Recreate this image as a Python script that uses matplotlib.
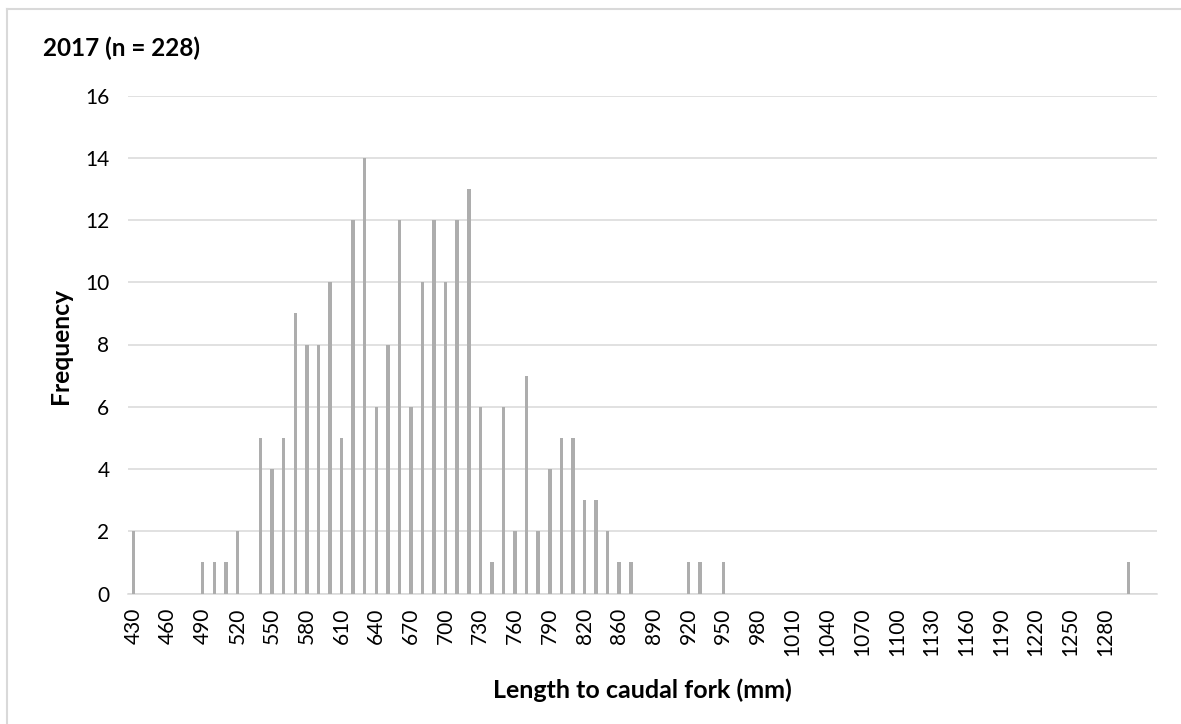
import matplotlib
matplotlib.use("Agg")
import matplotlib.pyplot as plt
from matplotlib.lines import Line2D

# ---- data ----
length_labels = ([str(v) for v in range(430, 850, 10)]
                 + [str(v) for v in range(860, 1310, 10)]
                 + ["", ""])
frequency = [2, 0, 0, 0, 0, 0, 1, 1, 1, 2,
             0, 5, 4, 5, 9, 8, 8, 10, 5, 12,
             14, 6, 8, 12, 6, 10, 12, 10, 12, 13,
             6, 1, 6, 2, 7, 2, 4, 5, 5, 3,
             3, 2, 1, 1, 0, 0, 0, 0, 1, 1,
             0, 1] + [0] * 34 + [1, 0, 0]
y_ticks = [0, 2, 4, 6, 8, 10, 12, 14, 16]
title = "2017 (n = 228)"
x_title = "Length to caudal fork (mm)"
y_title = "Frequency"

plt.rcParams['font.family'] = ['Lato', 'DejaVu Sans']

W, H = 1181, 724
fig = plt.figure(figsize=(W / 100, H / 100), dpi=100)
ax = fig.add_axes([127.5 / W, 1 - 593.5 / H, (1157.2 - 127.5) / W, (593.5 - 95.5) / H])

x = list(range(len(frequency)))
ax.bar(x, frequency, width=0.3, color='#ADADAD', zorder=3)

ax.set_xlim(-0.5, len(frequency) - 0.5)
ax.set_ylim(0, 16)
ax.set_yticks(y_ticks)
ax.set_yticklabels([str(v) for v in y_ticks], fontsize=15, color='#000000')
ax.set_xticks(x[::3])
ax.set_xticklabels(length_labels[::3], rotation=90, fontsize=15, color='#000000')
ax.tick_params(axis='both', length=0)
ax.tick_params(axis='y', pad=13)
ax.tick_params(axis='x', pad=10)

ax.grid(axis='y', color='#D9D9D9', linewidth=1.1, zorder=0)
for s in ['top', 'right', 'left']:
    ax.spines[s].set_visible(False)
ax.spines['bottom'].set_color('#D9D9D9')
ax.spines['bottom'].set_linewidth(1.1)

fig.text(43 / W, 1 - 48 / H, title, fontsize=17.5, fontweight='bold', ha='left', va='center')
fig.text(642 / W, 1 - 690 / H, x_title, fontsize=18, fontweight='bold', ha='center', va='center')
fig.text(61 / W, 1 - 346 / H, y_title, fontsize=17.7, fontweight='bold', ha='center', va='center', rotation=90)

# chart border (left and top only visible)
fig.add_artist(Line2D([7 / W, 7 / W], [0, 1 - 9 / H], transform=fig.transFigure, color='#D9D9D9', linewidth=1.5))
fig.add_artist(Line2D([7 / W, 1], [1 - 9 / H, 1 - 9 / H], transform=fig.transFigure, color='#D9D9D9', linewidth=1.5))

fig.savefig("out.png", dpi=100, facecolor='white')
